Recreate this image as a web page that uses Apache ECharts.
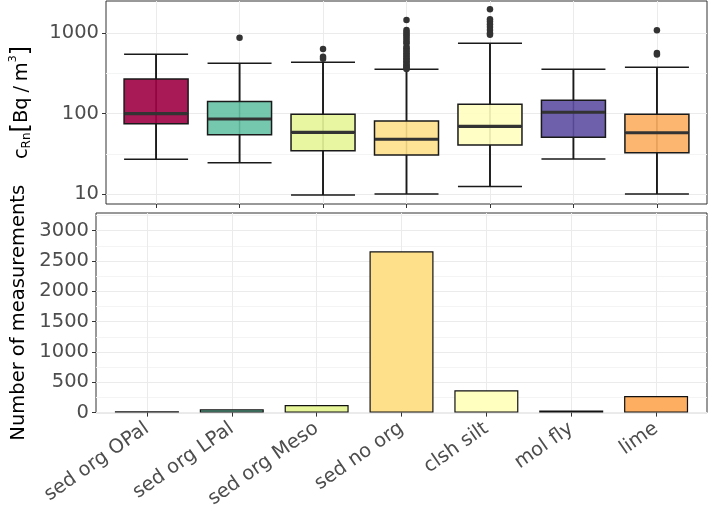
<!DOCTYPE html>
<html><head><meta charset="utf-8">
<script src="https://cdn.jsdelivr.net/npm/echarts@6/dist/echarts.min.js"></script>
<style>html,body{margin:0;padding:0;background:#fff}#c{width:709px;height:511px}</style>
</head><body><div id="c"></div>
<script>
const categories = ['sed org OPal', 'sed org LPal', 'sed org Meso', 'sed no org', 'clsh silt', 'mol fly', 'lime'];
const boxMin    = [27,   24.5, 9.7,  10,   12.4, 27.2, 10];
const boxQ1     = [75,   54.6, 34.5, 30.5, 40.6, 50.7, 32.6];
const boxMedian = [100,  85.7, 58.5, 48,   69.5, 104,  57.8];
const boxQ3     = [270,  142,  98,   81,   131,  147,  98];
const boxMax    = [548,  423,  435,  357,  750,  357,  378];
const outliers = [
  [],
  [881],
  [637, 512, 483],
  [1466, 1100, 1040, 980, 930, 880, 830, 780, 750, 680, 650, 620, 590, 560, 535, 510, 490, 470, 450, 430, 410, 395, 380, 368, 360],
  [1991, 1500, 1400, 1300, 1200, 1100, 1000, 960],
  [],
  [1090, 570, 545]
];
const counts = [21, 54, 125, 2658, 367, 33, 273];
const fillColors = ['#9E0142', '#66C2A5', '#E6F598', '#FEE08B', '#FFFFBF', '#5E4FA2', '#FDAE61'];
const catTicks = [0, 1, 2, 3, 4, 5, 6];
const logTicks = [10, 100, 1000];
const logMinorTicks = [31.62, 316.2];
const countTicks = [0, 500, 1000, 1500, 2000, 2500, 3000];
const countMinorTicks = [250, 750, 1250, 1750, 2250, 2750, 3250];

const FONT = 'DejaVu Sans';
function hexA(h, a) {
  const r = parseInt(h.slice(1, 3), 16), g = parseInt(h.slice(3, 5), 16), b = parseInt(h.slice(5, 7), 16);
  return 'rgba(' + r + ',' + g + ',' + b + ',' + a + ')';
}
const chart = echarts.init(document.getElementById('c'), null, {renderer: 'canvas'});

function xAx(gi, labels) {
  return {
    gridIndex: gi, type: 'value', min: -0.6, max: 6.6,
    axisLine: {show: false, onZero: false},
    axisTick: {show: true, length: 4, customValues: catTicks, lineStyle: {color: '#333', width: 1}},
    axisLabel: labels ? {
      show: true, customValues: catTicks, rotate: 35, margin: 14,
      fontSize: 19.5, fontFamily: FONT, color: '#4D4D4D',
      formatter: v => categories[Math.round(v)]
    } : {show: false},
    splitLine: {show: true, lineStyle: {color: '#EBEBEB', width: 1}}
  };
}
function yMinor(gi, type, min, max, ticks) {
  return {
    gridIndex: gi, type: type, min: min, max: max, position: 'left',
    axisLine: {show: false, onZero: false},
    axisTick: {show: false, customValues: ticks},
    axisLabel: {show: false},
    splitLine: {show: true, lineStyle: {color: '#F4F4F4', width: 1}}
  };
}

const option = {
  backgroundColor: '#fff',
  animation: false,
  grid: [
    {left: 96, right: 2, top: 1, height: 203, show: true, borderColor: '#333', borderWidth: 1, backgroundColor: '#fff'},
    {left: 96, right: 2, top: 213, height: 200, show: true, borderColor: '#333', borderWidth: 1, backgroundColor: '#fff'}
  ],
  xAxis: [xAx(0, false), xAx(1, true)],
  yAxis: [
    {
      gridIndex: 0, type: 'log', logBase: 10, min: 7.5, max: 2523, position: 'left',
      axisLine: {show: false, onZero: false},
      axisTick: {show: true, length: 4, customValues: logTicks, lineStyle: {color: '#333'}},
      axisLabel: {customValues: logTicks, fontSize: 19.5, fontFamily: FONT, color: '#4D4D4D', margin: 7,
        formatter: v => String(Math.round(v))},
      splitLine: {show: true, lineStyle: {color: '#EBEBEB', width: 1}},
      name: '{c|c}{sub|Rn}{br|[}{t|Bq}{g| }{t|/}{g| }{t|m}{sup|3}{br|]}',
      nameLocation: 'middle', nameGap: 70,
      nameTextStyle: {
        color: '#000', fontFamily: FONT,
        rich: {
          c: {fontSize: 19.5, fontFamily: FONT, color: '#000', lineHeight: 22},
          t: {fontSize: 19.5, fontFamily: FONT, color: '#000', lineHeight: 22},
          g: {fontSize: 15, fontFamily: FONT, lineHeight: 22},
          sub: {fontSize: 12, fontFamily: FONT, color: '#000', lineHeight: 14, padding: [10, 0, 0, 0]},
          sup: {fontSize: 11, fontFamily: FONT, color: '#000', lineHeight: 13, padding: [0, 0, 17, 0]},
          br: {fontSize: 24, fontFamily: FONT, color: '#000', lineHeight: 28}
        }
      }
    },
    yMinor(0, 'log', 7.5, 2523, logMinorTicks),
    {
      gridIndex: 1, type: 'value', min: 0, max: 3290, position: 'left',
      axisLine: {show: false, onZero: false},
      axisTick: {show: true, length: 4, customValues: countTicks, lineStyle: {color: '#333'}},
      axisLabel: {customValues: countTicks, fontSize: 19.5, fontFamily: FONT, color: '#4D4D4D', margin: 7,
        formatter: v => String(Math.round(v))},
      splitLine: {show: true, lineStyle: {color: '#EBEBEB', width: 1}},
      name: 'Number of measurements', nameLocation: 'middle', nameGap: 65,
      nameTextStyle: {fontSize: 19.5, fontFamily: FONT, color: '#000'}
    },
    yMinor(1, 'value', 0, 3290, countMinorTicks)
  ],
  series: [
    {
      type: 'custom', xAxisIndex: 0, yAxisIndex: 0, z: 2,
      data: categories.map((c, i) => [i, boxMin[i], boxMax[i]]),
      encode: {x: 0, y: [1, 2]},
      renderItem: function (params, api) {
        const x = api.value(0);
        const p1 = api.coord([x, api.value(1)]);
        const p2 = api.coord([x, api.value(2)]);
        return {type: 'line', shape: {x1: p1[0], y1: p1[1], x2: p2[0], y2: p2[1]},
          style: {stroke: '#000', lineWidth: 1.5}};
      }
    },
    {
      type: 'boxplot', xAxisIndex: 0, yAxisIndex: 0, z: 3, layout: 'horizontal',
      boxWidth: [64, 64],
      data: categories.map((c, i) => ({
        value: [i, boxMin[i], boxQ1[i], boxMedian[i], boxQ3[i], boxMax[i]],
        itemStyle: {color: hexA(fillColors[i], 0.9), borderColor: '#1a1a1a', borderWidth: 1.5}
      }))
    },
    {
      type: 'scatter', xAxisIndex: 0, yAxisIndex: 0, z: 4,
      symbol: 'rect', symbolSize: [63, 3.2],
      itemStyle: {color: '#333', opacity: 1},
      data: categories.map((c, i) => [i, boxMedian[i]])
    },
    {
      type: 'scatter', xAxisIndex: 0, yAxisIndex: 0, z: 4,
      symbol: 'circle', symbolSize: 6.5,
      itemStyle: {color: '#333', opacity: 1},
      data: outliers.flatMap((arr, i) => arr.map(v => [i, v]))
    },
    {
      type: 'bar', xAxisIndex: 1, yAxisIndex: 2, barWidth: 64, z: 3,
      data: counts.map((v, i) => ({value: [i, v], itemStyle: {color: fillColors[i]}})),
      itemStyle: {borderColor: '#111', borderWidth: 1.2}
    }
  ]
};
chart.setOption(option);
</script>
</body></html>
